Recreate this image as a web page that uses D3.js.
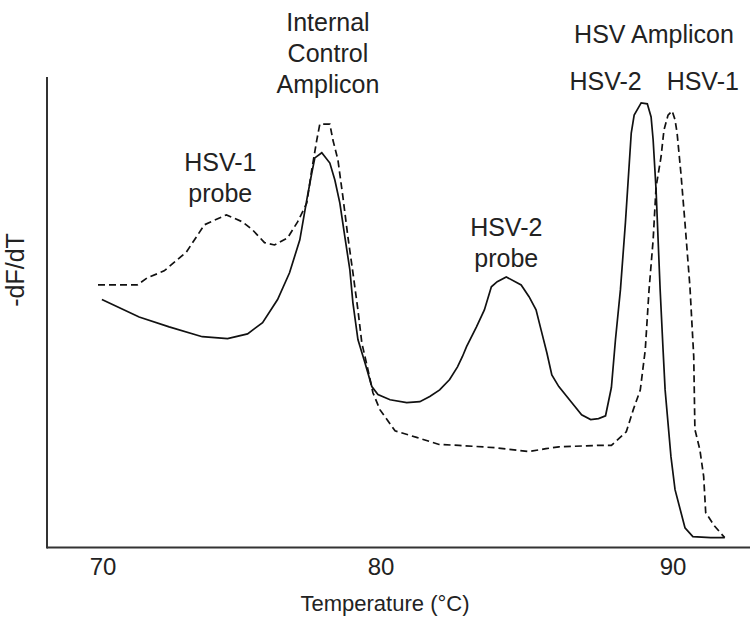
<!DOCTYPE html>
<html>
<head>
<meta charset="utf-8">
<script src="https://cdn.jsdelivr.net/npm/d3@7"></script>
<style>
  body { margin: 0; background: #fff; }
  svg text { font-family: "Liberation Sans", Arial, Helvetica, sans-serif; fill: #222; }
</style>
</head>
<body>
<div id="chart"></div>
<script>
// Melt curve data: temperature (°C) and -dF/dT (arbitrary units, axis top = 100)
const solidTemp = [69.96, 71.30, 72.38, 73.57, 74.48, 75.20, 75.74, 76.28, 76.71, 77.08,
  77.33, 77.51, 77.62, 77.87, 78.16, 78.34, 78.52, 78.70, 78.88, 78.99,
  79.17, 79.42, 79.67, 79.89, 80.31, 80.88, 81.33, 81.67, 82.01, 82.35,
  82.62, 82.79, 82.93, 83.27, 83.54, 83.78, 83.98, 84.29, 84.80, 85.07,
  85.31, 85.48, 85.68, 85.85, 86.09, 86.53, 86.87, 87.18, 87.45, 87.69,
  87.89, 88.03, 88.20, 88.37, 88.57, 88.67, 88.91, 89.12, 89.25, 89.32,
  89.42, 89.49, 89.56, 89.66, 89.73, 89.93, 90.07, 90.41, 90.68, 91.29, 91.77];
const solidVal = [52.7, 49.0, 46.9, 44.8, 44.4, 45.4, 47.8, 52.7, 58.4, 65.4,
  73.9, 79.6, 82.8, 83.9, 81.7, 78.1, 73.2, 66.0, 59.0, 52.0,
  44.2, 39.3, 34.2, 32.5, 31.4, 30.8, 31.0, 32.1, 33.5, 35.7,
  38.4, 40.6, 42.7, 46.9, 50.5, 55.4, 56.5, 57.5, 55.8, 53.3,
  50.5, 46.3, 41.4, 36.7, 34.2, 30.8, 28.2, 27.2, 27.4, 28.0,
  34.0, 44.2, 54.8, 69.0, 88.1, 91.9, 94.5, 94.3, 91.5, 86.6,
  76.0, 65.4, 54.8, 42.0, 33.5, 19.3, 12.3, 4.2, 2.3, 2.1, 2.1];

const dashedTemp = [69.82, 71.23, 71.59, 72.20, 73.00, 73.65, 74.44, 75.02, 75.38, 75.81,
  76.17, 76.64, 77.00, 77.33, 77.51, 77.69, 77.80, 78.16, 78.27, 78.45,
  78.63, 78.81, 78.99, 79.17, 79.31, 79.53, 79.71, 79.96, 80.48, 81.22,
  81.99, 82.67, 83.93, 85.07, 85.65, 86.09, 87.45, 87.89, 88.40, 88.64,
  88.88, 89.05, 89.18, 89.32, 89.42, 89.59, 89.69, 89.83, 89.97, 90.07,
  90.14, 90.27, 90.41, 90.58, 90.71, 90.75, 90.92, 91.05, 91.12, 91.43, 91.77];
const dashedVal = [55.8, 55.8, 57.3, 58.8, 62.8, 68.6, 70.7, 69.2, 67.5, 64.8,
  64.3, 65.8, 69.2, 73.2, 80.3, 86.6, 90.0, 90.0, 86.6, 82.4,
  74.5, 66.0, 58.4, 50.5, 43.5, 37.8, 32.9, 29.3, 24.8, 23.4,
  21.9, 21.7, 21.2, 20.4, 21.0, 21.4, 21.7, 21.7, 24.6, 29.3,
  33.5, 42.0, 54.8, 65.4, 76.6, 83.0, 88.7, 91.9, 92.8, 90.9,
  88.1, 79.6, 69.0, 55.4, 40.6, 25.1, 20.8, 15.1, 7.4, 4.5, 2.1];

const xTicks = [70, 80, 90];

// annotation text, anchored at (temperature, value) of the first line
const annoText = [["HSV-1", "probe"], ["Internal", "Control", "Amplicon"], ["HSV-2", "probe"],
  ["HSV Amplicon"], ["HSV-2"], ["HSV-1"]];
const annoTemp = [74.22, 78.09, 84.29, 89.35, 87.69, 91.02];
const annoVal = [80.0, 109.8, 66.2, 107.2, 97.2, 97.2];

function createChart() {
  const width = 750;
  const height = 624;
  const margin = { top: 77, left: 47, bottom: 76 };

  const svg = d3.select("#chart")
    .append("svg")
    .attr("width", width)
    .attr("height", height);

  // tick labels in the figure are not evenly spaced, so use a piecewise scale
  const x = d3.scaleLinear()
    .domain([70, 80, 90])
    .range([103, 381, 673]);

  const y = d3.scaleLinear()
    .domain([0, 100])
    .range([height - margin.bottom - 0.5, margin.top]);

  const line = d3.line()
    .x(d => x(d[0]))
    .y(d => y(d[1]));

  const solid = d3.zip(solidTemp, solidVal);
  const dashed = d3.zip(dashedTemp, dashedVal);

  // curves
  svg.append("path")
    .datum(dashed)
    .attr("d", line)
    .attr("fill", "none")
    .attr("stroke", "#111")
    .attr("stroke-width", 1.7)
    .attr("stroke-dasharray", "7,4");

  svg.append("path")
    .datum(solid)
    .attr("d", line)
    .attr("fill", "none")
    .attr("stroke", "#111")
    .attr("stroke-width", 1.7);

  // axes (plain lines, no tick marks)
  const axisY = y(0);
  svg.append("line")
    .attr("x1", margin.left).attr("x2", width)
    .attr("y1", axisY).attr("y2", axisY)
    .attr("stroke", "#333").attr("stroke-width", 2);

  svg.append("line")
    .attr("x1", margin.left).attr("x2", margin.left)
    .attr("y1", margin.top).attr("y2", axisY + 1)
    .attr("stroke", "#333").attr("stroke-width", 2);

  svg.selectAll(".tick-label")
    .data(xTicks)
    .enter()
    .append("text")
    .attr("class", "tick-label")
    .attr("x", d => x(d))
    .attr("y", axisY + 27)
    .attr("text-anchor", "middle")
    .style("font-size", "24px")
    .text(d => d);

  svg.append("text")
    .attr("x", 385)
    .attr("y", 611)
    .attr("text-anchor", "middle")
    .style("font-size", "22px")
    .text("Temperature (°C)");

  svg.append("text")
    .attr("transform", "translate(24, 270) rotate(-90)")
    .attr("text-anchor", "middle")
    .style("font-size", "25px")
    .text("-dF/dT");

  // peak annotations
  annoText.forEach((lines, i) => {
    const t = svg.append("text")
      .attr("text-anchor", "middle")
      .attr("x", x(annoTemp[i]))
      .attr("y", y(annoVal[i]))
      .style("font-size", "25px");
    lines.forEach((s, j) => {
      t.append("tspan")
        .attr("x", x(annoTemp[i]))
        .attr("dy", j === 0 ? 0 : 31)
        .text(s);
    });
  });
}

document.addEventListener("DOMContentLoaded", createChart);
</script>
</body>
</html>
